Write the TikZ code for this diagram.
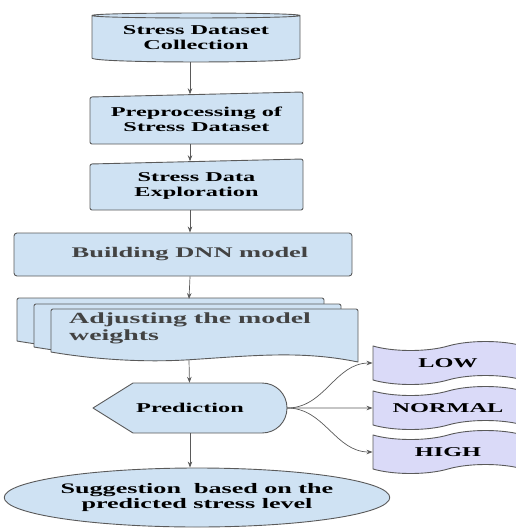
\documentclass[tikz,border=0pt]{standalone}
\usepackage{fontspec}
\setmainfont{Liberation Serif}[FakeStretch=1.8]
\usetikzlibrary{positioning,shapes.geometric,shapes.symbols,arrows.meta}
\definecolor{boxblue}{HTML}{CFE2F3}
\definecolor{tapeblue}{HTML}{DADAF8}
\definecolor{linegray}{HTML}{5A5A5A}
\definecolor{txtgray}{HTML}{434343}
\tikzset{
  flowbox/.style={draw=linegray,fill=boxblue,line width=0.9pt},
  lbl/.style={inner sep=0pt,align=center,font=\bfseries\fontsize{13.5}{14.5}\selectfont},
  lvlbox/.style={tape,draw=linegray,fill=tapeblue,line width=0.9pt,minimum width=150pt,
    minimum height=43pt,tape bend height=9pt,inner sep=0pt,
    font=\bfseries\fontsize{13.5}{14.5}\selectfont},
  arrowline/.style={every edge/.append style={draw=linegray,line width=0.7pt}},
}

\begin{document}
\begin{tikzpicture}[x=1pt,y=-1pt,>={Stealth[length=6pt,width=4.5pt]},line join=round]
   \useasboundingbox (0,0) rectangle (515,528);
   \draw[flowbox] (92,15.5) -- (92,58) .. controls (92,63.3) and (300,63.3) .. (300,58)
     -- (300,15.5) .. controls (300,12.2) and (92,12.2) .. (92,15.5) -- cycle
     (92,15.5) .. controls (92,18.8) and (300,18.8) .. (300,15.5);
   \node[lbl,minimum width=208pt,minimum height=49pt] (collect) at (196,37.5) {Stress Dataset\\Collection};
   \draw[flowbox,rounded corners=2pt] (90,97) -- (303,92) -- (303,144) -- (90,144) -- cycle;
   \node[lbl,minimum width=213pt,minimum height=49.5pt] (prep) at (196.5,119.25) {Preprocessing of\\Stress Dataset};
   \draw[flowbox,rounded corners=2pt] (90,164) -- (303,159) -- (303,210) -- (90,210) -- cycle;
   \node[lbl,minimum width=213pt,minimum height=48.5pt] (explore) at (196.5,185.75) {Stress Data\\Exploration};
   \node[flowbox,lbl,rounded corners=3pt,minimum width=338pt,minimum height=43pt,text=txtgray,
     font=\bfseries\fontsize{14.7}{16}\selectfont] (build) at (183,254.5) {\hspace*{14pt}Building DNN model};
   \foreach \dx/\dy in {-34/-11,-17/-5,0/0}
     \draw[flowbox,shift={(\dx,\dy)},rounded corners=2pt] (51,352) -- (51,309) -- (358,309)
       [sharp corners] -- (358,362) .. controls (300,350) and (250,356) .. (185,360)
       .. controls (130,363) and (80,357) .. (51,352) -- cycle;
   \node[lbl,anchor=west,align=left,text=txtgray,font=\bfseries\fontsize{15.5}{17}\selectfont]
     (adjust) at (69,328.5) {Adjusting the model\\weights};
   \coordinate (wtop) at (189,299);
   \coordinate (wbot) at (189,360);
   \draw[flowbox] (93,408) -- (133,383) -- (262,383) .. controls (276,383) and (287,394) .. (287,408)
     .. controls (287,422) and (276,433) .. (262,433) -- (133,433) -- cycle;
   \node[lbl,minimum width=194pt,minimum height=50pt] (pred) at (190,408) {Prediction};
   \node[flowbox,lbl,ellipse,minimum width=360pt,minimum height=59pt,
     font=\bfseries\fontsize{14.5}{15}\selectfont] (sugg) at (197,497.5) {Suggestion\ \ based on the\\predicted stress level};
   \node[lvlbox] (low) at (448,363) {LOW};
   \node[lvlbox] (normal) at (448,408) {NORMAL};
   \node[lvlbox] (high) at (448,452) {HIGH};
   \path[->,arrowline]
    (collect.south -| pred) edge (prep.north -| pred)
    (prep.south -| pred) edge (explore.north -| pred)
    (explore.south -| pred) edge (build.north -| pred)
    (build.south -| pred) edge (wtop)
    (wbot) edge (pred)
    (pred.south) edge (pred.south |- sugg.north)
    (pred) edge [out=0,in=180] (low)
    (pred) edge (normal)
    (pred) edge [out=0,in=180] (high)
    ;
\end{tikzpicture}
\end{document}
